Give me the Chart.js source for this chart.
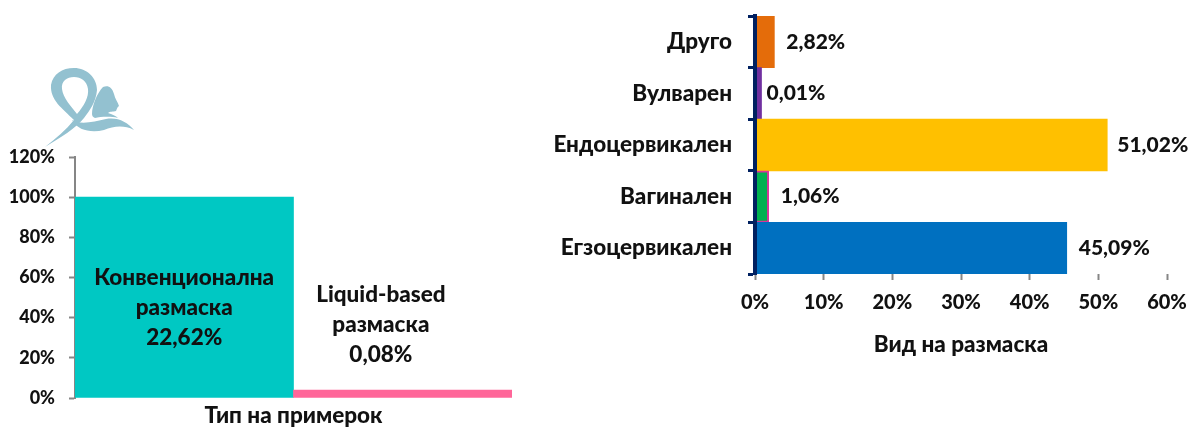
<!DOCTYPE html>
<html><head><meta charset="utf-8">
<style>
html,body{margin:0;padding:0;background:#fff;width:1191px;height:429px;overflow:hidden}
canvas{position:absolute;top:0}
#logo{position:absolute;left:0;top:0}
</style>
<script src="https://cdn.jsdelivr.net/npm/chart.js@4"></script>
</head><body>
<canvas id="a" width="530" height="429" style="left:0;width:530px;height:429px"></canvas>
<canvas id="b" width="661" height="429" style="left:530px;width:661px;height:429px"></canvas>
<svg id="logo" width="150" height="160" viewBox="0 0 150 160">
<g fill="#93c1d0">
<path d="M45 147 C56 138 66 130 74 120 C62 108 50 100 51 85 C53 74 62 68 74 68 C87 68 97 78 97 90 C96 102 90 110 84 118 C76 128 60 138 45 147Z M74 77 C67 77 61 81 62 89 C63 98 71 106 77 114 C84 106 89 97 88 89 C87 81 81 77 74 77Z" fill-rule="evenodd"/>
<path d="M72 120 C80 125 94 122 106 119 C118 117 127 122 134 130 C124 125 114 126 104 130 C92 133 78 131 72 120Z"/>
<path d="M92 114 C92 106 97 93 103 87 C108 85 112 87 114 94 C115 99 118 102 119 106 C117 107 117 109 116 111 C113 112 110 111 108 113 C112 114 116 116 118 118 C110 116 100 117 95 118 C93 117 92 116 92 114Z"/>
</g>
</svg>
<script>
const fontFamily = 'Lato, "Open Sans", sans-serif';
const typeCategories = ['Конвенционална размаска', 'Liquid-based размаска'];
const typeBars = [100, 4];
const typeLabels = [['Конвенционална', 'размаска', '22,62%'], ['Liquid-based', 'размаска', '0,08%']];
const typeLabelValues = [45, 36.5];
const typeLabelCentres = [0, 0.9];
const typeColors = ['#00C8C3', '#FF6699'];
const kindCategories = ['Друго', 'Вулварен', 'Ендоцервикален', 'Вагинален', 'Егзоцервикален'];
const kindBars = [2.82, 0.95, 51.3, 2.0, 45.4];
const kindLabels = ['2,82%', '0,01%', '51,02%', '1,06%', '45,09%'];
const kindLabelGaps = [12, 5, 10, 12, 12];
const kindColors = ['#E46C0A', '#7030A0', '#FFC000', '#00B050', '#0070C0'];
const kindBorders = ['#E46C0A', '#7030A0', '#FFC000', '#D9359A', '#0070C0'];
const kindBorderWidths = [0, 0, 0, 2, 0];

const font = {family: fontFamily, size: 22.5, weight: '900'};
const smallFont = {family: fontFamily, size: 18, weight: '900'};
const midFont = {family: fontFamily, size: 20, weight: '900'};
const ink = '#111';
const noMargins = s => { s.paddingTop = s.paddingBottom = s.paddingLeft = s.paddingRight = 0; };

const typeLabelPlugin = {id: 'typeLabel', afterDatasetsDraw(c) {
  const ctx = c.ctx; ctx.save();
  ctx.font = '900 22.5px ' + fontFamily; ctx.fillStyle = ink;
  ctx.textAlign = 'center'; ctx.textBaseline = 'middle';
  typeLabels.forEach((lines, i) => {
    const x = c.scales.x.getPixelForValue(typeLabelCentres[i]), y = c.scales.y.getPixelForValue(typeLabelValues[i]);
    lines.forEach((l, k) => ctx.fillText(l, x, y + (k - 1) * 30));
  });
  ctx.restore();
}};
const kindLabelPlugin = {id: 'kindLabel', afterDatasetsDraw(c) {
  const ctx = c.ctx; ctx.save();
  ctx.font = '900 21px ' + fontFamily; ctx.fillStyle = ink;
  ctx.textAlign = 'left'; ctx.textBaseline = 'middle';
  kindLabels.forEach((l, i) => {
    ctx.fillText(l, c.scales.x.getPixelForValue(kindBars[i]) + kindLabelGaps[i], c.scales.y.getPixelForValue(i));
  });
  ctx.restore();
}};

new Chart(document.getElementById('a'), {
  type: 'bar',
  data: {labels: typeCategories, datasets: [{data: typeBars, backgroundColor: typeColors, barPercentage: 1, categoryPercentage: 1}]},
  plugins: [typeLabelPlugin],
  options: {
    responsive: false, animation: false,
    layout: {padding: {top: 157, right: 18, left: 0, bottom: 0}},
    plugins: {legend: {display: false}, tooltip: {enabled: false}},
    scales: {
      x: {
        afterFit(s) { s.height = 31; noMargins(s); },
        ticks: {display: false},
        grid: {display: false},
        border: {display: false},
        title: {display: true, text: 'Тип на примерок', color: ink, font, padding: 0}
      },
      y: {
        min: 0, max: 120,
        afterFit(s) { s.width = 75; noMargins(s); },
        ticks: {stepSize: 20, color: ink, font: smallFont, padding: 14, callback: v => v + '%'},
        grid: {drawOnChartArea: false, color: '#868686', tickLength: 6, tickWidth: 2},
        border: {color: '#868686', width: 2}
      }
    }
  }
});

new Chart(document.getElementById('b'), {
  type: 'bar',
  data: {labels: kindCategories, datasets: [{data: kindBars, backgroundColor: kindColors, borderColor: kindBorders, borderWidth: kindBorderWidths, barPercentage: 1, categoryPercentage: 1}]},
  plugins: [kindLabelPlugin],
  options: {
    indexAxis: 'y',
    responsive: false, animation: false,
    layout: {padding: {top: 16, right: 24, left: 0, bottom: 0}},
    plugins: {legend: {display: false}, tooltip: {enabled: false}},
    scales: {
      x: {
        min: 0, max: 60,
        afterFit(s) { s.height = 155; noMargins(s); },
        ticks: {stepSize: 10, color: ink, font: midFont, padding: 11, maxRotation: 0, callback: v => v + '%'},
        grid: {drawOnChartArea: false, color: '#868686', tickLength: 6, tickWidth: 2},
        border: {display: false},
        title: {display: true, text: 'Вид на размаска', color: ink, font, padding: {top: 0, bottom: 71}}
      },
      y: {
        afterFit(s) { s.width = 225; noMargins(s); },
        ticks: {color: ink, font, padding: 16},
        grid: {drawOnChartArea: false, offset: true, color: '#002060', tickLength: 7, tickWidth: 3, z: 1},
        border: {color: '#002060', width: 4, z: 2}
      }
    }
  }
});
</script>
</body></html>
